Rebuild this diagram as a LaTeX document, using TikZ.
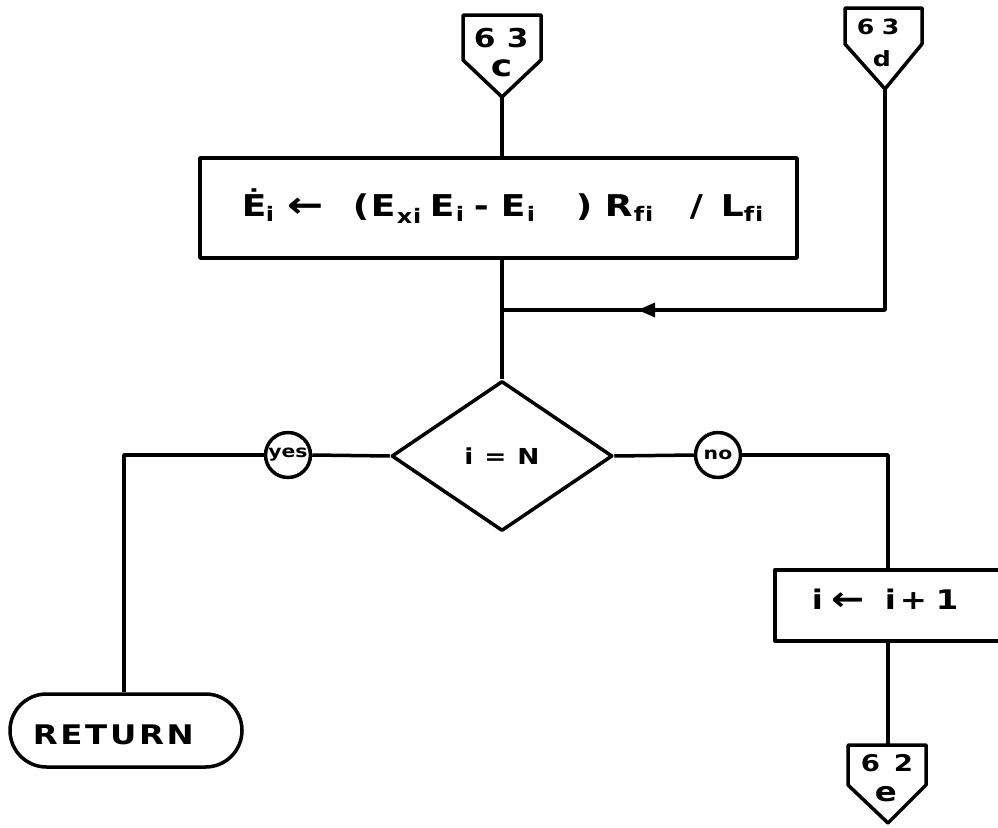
\documentclass[tikz,border=0pt]{standalone}
\usepackage{fontspec}
\setmainfont[FakeStretch=1.2]{DejaVu Sans}
\newfontfamily\wideletters[FakeStretch=1.2,LetterSpace=10]{DejaVu Sans}
\newfontfamily\midletters[FakeStretch=1.2,LetterSpace=8]{DejaVu Sans}
\usetikzlibrary{shapes.geometric,shapes.misc}

\begin{document}
\begin{tikzpicture}[x=1pt,y=-1pt,line width=3.5pt,line join=round,
  glyph/.style={inner sep=0pt,anchor=base west,font=\fontsize{30}{30}\selectfont\bfseries},
  bigarrow/.style={inner sep=0pt,anchor=base west,font=\fontsize{36}{36}\selectfont\bfseries},
  sub/.style={inner sep=0pt,anchor=base west,font=\fontsize{20}{20}\selectfont\bfseries},
  digit/.style={inner sep=0pt,anchor=base west,font=\fontsize{#1}{#1}\selectfont\bfseries},
  procbox/.style={draw,rectangle,inner sep=0pt},
  decision/.style={draw,diamond,inner sep=0pt,minimum width=221pt,minimum height=150pt,
                   font=\fontsize{22}{22}\selectfont\bfseries\midletters},
  answer/.style={draw,circle,inner sep=0pt,minimum size=45pt,font=\fontsize{17}{17}\selectfont\bfseries},
  terminal/.style={draw,rounded rectangle,inner sep=0pt}]
\useasboundingbox (0,0) rectangle (998,827);

% off-page connector 63c
\draw (463,15) -- (541,15) -- (541,60) -- (502,97) -- (463,60) -- cycle;
\coordinate (c63) at (502,97);
\node[digit=26] at (472,47) {6};
\node[digit=26] at (505,47) {3};
\node[digit=30] at (489,76) {c};

% off-page connector 63d
\draw (845,8) -- (922,8) -- (922,44) -- (885,89) -- (845,44) -- cycle;
\coordinate (d63) at (885,89);
\node[digit=21] at (855,34) {6};
\node[digit=21] at (880,34) {3};
\node[digit=21] at (871,66) {d};

% field voltage derivative
\node[procbox,minimum width=597pt,minimum height=100pt] (fld) at (498.5,208) {};
\node[glyph] at (240,216) {\.E};
\node[sub] at (264,221) {i};
\node[bigarrow] at (286,217) {←};
\node[glyph] at (351,216) {(};
\node[glyph] at (369,216) {E};
\node[sub] at (395,223) {x\kern1pt i};
\node[glyph] at (428,216) {E};
\node[sub] at (454,221) {i};
\node[glyph] at (472,216) {-};
\node[glyph] at (499,216) {E};
\node[sub] at (525,221) {i};
\node[glyph] at (574,216) {)};
\node[glyph] at (603,216) {R};
\node[sub] at (632,221) {f\kern1pt i};
\node[glyph] at (688,216) {/};
\node[glyph] at (719,216) {L};
\node[sub] at (742,221) {f\kern1pt i};

% decision
\node[decision] (dec) at (502,456) {i = N};
\coordinate (mrg) at (502,310);

\node[answer] (yes) at (288,455) {yes};
\node[answer] (no) at (718,455) {no};

% exit
\node[terminal,minimum width=232pt,minimum height=73pt] (ret) at (126,730.5) {};
\node[inner sep=0pt,anchor=base west,font=\fontsize{27}{27}\selectfont\bfseries\wideletters]
  at (31,744) {RETURN};

% increment box, running past the right edge
\node[procbox,minimum width=235pt,minimum height=71pt,anchor=north west] (inc) at (773,568) {};
\node[glyph,font=\fontsize{27}{27}\selectfont\bfseries] at (810,609) {i};
\node[bigarrow,font=\fontsize{33}{33}\selectfont\bfseries] at (830,610) {←};
\node[glyph,font=\fontsize{27}{27}\selectfont\bfseries] at (883,609) {i};
\node[glyph,font=\fontsize{27}{27}\selectfont\bfseries] at (898,609) {+};
\node[glyph,font=\fontsize{27}{27}\selectfont\bfseries] at (934,609) {1};

% off-page connector 62e
\draw (848,745) -- (926,745) -- (926,785) -- (888,823) -- (848,785) -- cycle;
\coordinate (e62) at (888,745);
\node[digit=23] at (859,771) {6};
\node[digit=23] at (892,771) {2};
\node[digit=27] at (873,801) {e};

% connectors
\draw (c63) -- (fld.north -| c63);
\draw (fld.south -| c63) -- (dec.north);
\coordinate (arr) at (638,310);
\draw (d63) |- (mrg);
\fill (arr) -- ++(17,-7.5) -- ++(0,15) -- cycle;
\draw (dec.west) -- (yes.east);
\draw (yes.west) -| (ret.north -| 124,0);
\draw (dec.east) -- (no.west);
\draw (no.east) -| (inc.north -| 888,0);
\draw (inc.south -| 888,0) -- (e62);
\end{tikzpicture}
\end{document}
